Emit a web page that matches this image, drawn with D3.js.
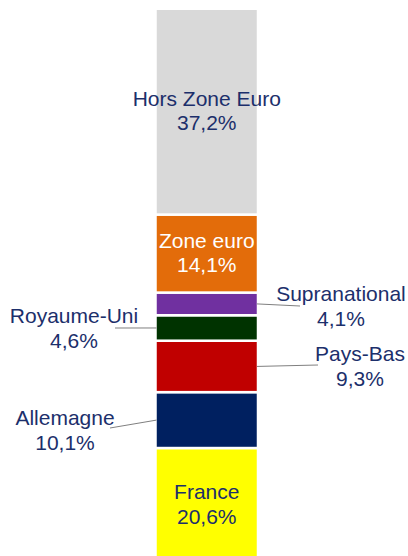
<!DOCTYPE html>
<html>
<head>
<meta charset="utf-8">
<script src="https://cdn.jsdelivr.net/npm/d3@7"></script>
<style>
  html, body { margin: 0; padding: 0; background: #fff; }
  svg { display: block; }
</style>
</head>
<body>
<svg width="408" height="556"></svg>
<script>
// bottom to top
let categories = ["France", "Allemagne", "Pays-Bas", "Royaume-Uni", "Supranational", "Zone euro", "Hors Zone Euro"];
let values = [20.6, 10.1, 9.3, 4.6, 4.1, 14.1, 37.2];
let colors = ["#ffff00", "#002060", "#c00000", "#003300", "#7030a0", "#e36c0a", "#d9d9d9"];

// where the outside labels go (null = inside the bar)
let outside = {
    "Royaume-Uni":   { side: "left",  lx: 74,  ly: 323, lineX: 115, lineY: 328 },
    "Supranational": { side: "right", lx: 341, ly: 301, lineX: 300, lineY: 306 },
    "Pays-Bas":      { side: "right", lx: 360, ly: 361, lineX: 318, lineY: 365 },
    "Allemagne":     { side: "left",  lx: 65,  ly: 425, lineX: 110, lineY: 428 }
};

let navy = "#1c2f6b";
let fmt = function (v) { return v.toFixed(1).replace(".", ",") + "%"; };

let svg = d3.select("svg");

let x = d3.scaleBand().domain(["total"]).range([155.5, 258]);
let y = d3.scaleLinear().domain([0, 100]).range([562, 8.75]);

let ends = d3.cumsum(values);
let data = categories.map(function (c, i) {
    return { name: c, value: values[i], color: colors[i], y0: ends[i] - values[i], y1: ends[i] };
});

svg.append("g")
    .selectAll("rect")
    .data(data)
    .join("rect")
    .attr("x", x("total"))
    .attr("width", x.bandwidth())
    .attr("y", function (d) { return y(d.y1); })
    .attr("height", function (d) { return y(d.y0) - y(d.y1); })
    .attr("fill", function (d) { return d.color; })
    .attr("stroke", "#fff")
    .attr("stroke-width", 2.5);

let labels = svg.append("g")
    .attr("font-family", "'Liberation Sans', Arial, sans-serif")
    .attr("font-size", 21)
    .attr("text-anchor", "middle");

data.forEach(function (d) {
    let o = outside[d.name];
    let mid = (y(d.y0) + y(d.y1)) / 2;
    let tx, ty, fill;
    if (o) {
        tx = o.lx;
        ty = o.ly;
        fill = navy;
        let barEdge = o.side === "left" ? x("total") + 1 : x("total") + x.bandwidth() - 1;
        svg.append("line")
            .attr("x1", o.lineX).attr("y1", o.lineY)
            .attr("x2", barEdge).attr("y2", mid)
            .attr("stroke", "#808080")
            .attr("stroke-width", 1);
    } else {
        tx = x("total") + x.bandwidth() / 2;
        ty = mid - 6;
        fill = d.name === "Zone euro" ? "#fff" : navy;
    }
    let t = labels.append("text").attr("fill", fill);
    t.append("tspan").attr("x", tx).attr("y", ty).text(d.name);
    t.append("tspan").attr("x", tx).attr("y", ty + 24.5).text(fmt(d.value));
});
</script>
</body>
</html>
